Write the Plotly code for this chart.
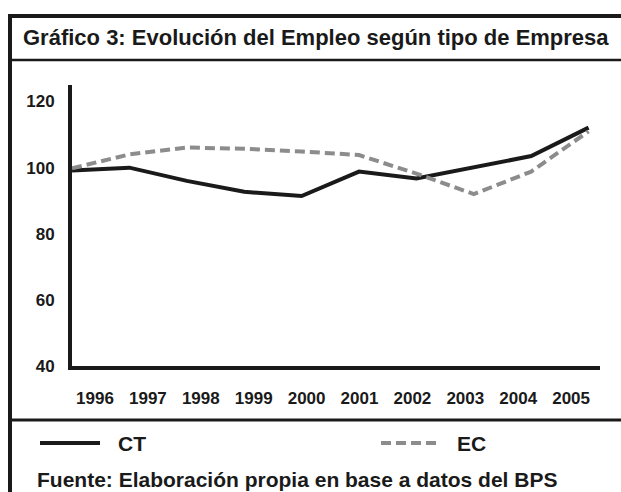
import plotly.graph_objects as go

YEARS = [1996, 1997, 1998, 1999, 2000, 2001, 2002, 2003, 2004, 2005]
CT = [99.1, 100.0, 96.0, 92.7, 91.4, 98.8, 96.7, 100.1, 103.5, 112.1]
EC = [99.8, 104.0, 106.1, 105.7, 104.9, 103.8, 98.2, 92.0, 98.8, 111.0]
Y_TICKS = [40, 60, 80, 100, 120]
X_LABELS = [str(y) for y in YEARS]

TITLE = "Gráfico 3: Evolución del Empleo según tipo de Empresa"
SOURCE = "Fuente: Elaboración propia en base a datos del BPS"

W, H = 621, 492
L, R, T, B = 72, 21, 85, 126
PW, PH = W - L - R, H - T - B

SANS = "Liberation Sans, Arial, sans-serif"
BLACK = "#1a1a1a"
GREY = "#8c8c8c"


def px(x):
    return (x - L) / PW


def py(y):
    return (H - B - y) / PH


def hline(y, x0, x1, w):
    return dict(type="line", xref="paper", yref="paper", x0=px(x0), x1=px(x1),
                y0=py(y), y1=py(y), line=dict(color=BLACK, width=w))


def note(text, x, y, size):
    return dict(text=text, x=px(x), y=py(y), xref="paper", yref="paper", xanchor="left",
                yanchor="middle", showarrow=False,
                font=dict(family=SANS, size=size, color=BLACK, weight="bold"))


fig = go.Figure()
fig.add_trace(go.Scatter(x=YEARS, y=CT, mode="lines", name="CT",
                         line=dict(color=BLACK, width=4), showlegend=False))
fig.add_trace(go.Scatter(x=YEARS, y=EC, mode="lines", name="EC",
                         line=dict(color=GREY, width=4, dash="10px,5px"), showlegend=False))
# dummy trace to carry the offset year labels
fig.add_trace(go.Scatter(x=list(range(len(X_LABELS))), y=[None] * len(X_LABELS),
                         xaxis="x2", showlegend=False, hoverinfo="skip"))

shapes = [
    dict(type="line", xref="paper", yref="paper", x0=px(10), x1=px(10),
         y0=py(14), y1=py(495), line=dict(color=BLACK, width=4)),
    hline(16, 8, 625, 4),
    hline(60, 10, 625, 2.5),
    hline(420, 10, 625, 3),
    # legend samples
    hline(443, 40, 100, 4),
    dict(type="line", xref="paper", yref="paper", x0=px(381), x1=px(439),
         y0=py(443), y1=py(443), line=dict(color=GREY, width=4, dash="10px,5px")),
]

annotations = [
    note(TITLE, 21, 38, 22),
    note("CT", 116, 443, 21),
    note("EC", 455, 443, 21),
    note(SOURCE, 35, 479, 21),
]

tick_font = dict(family=SANS, size=17, color=BLACK, weight="bold")

fig.update_layout(
    width=W, height=H,
    margin=dict(l=L, r=R, t=T, b=B, pad=0),
    paper_bgcolor="white", plot_bgcolor="white",
    font=dict(family=SANS, size=17, color=BLACK),
    shapes=shapes, annotations=annotations,
    xaxis=dict(range=[1996, 1996 + PW / 57.4], showticklabels=False, showgrid=False,
               zeroline=False, showline=True, linecolor=BLACK, linewidth=4, ticks=""),
    xaxis2=dict(overlaying="x", side="bottom", range=[-23 / 52.9, -23 / 52.9 + PW / 52.9],
                tickvals=list(range(len(X_LABELS))), ticktext=X_LABELS, showgrid=False,
                zeroline=False, showline=False, ticks="", ticklabelstandoff=20,
                tickfont=tick_font),
    yaxis=dict(range=[40, 125], tickvals=Y_TICKS, showgrid=False, zeroline=False,
               showline=True, linecolor=BLACK, linewidth=4, ticks="", ticklabelstandoff=10,
               tickfont=tick_font),
)

fig.write_html("out.html", config={"displayModeBar": False},
               post_script="document.body.style.margin='0';")
